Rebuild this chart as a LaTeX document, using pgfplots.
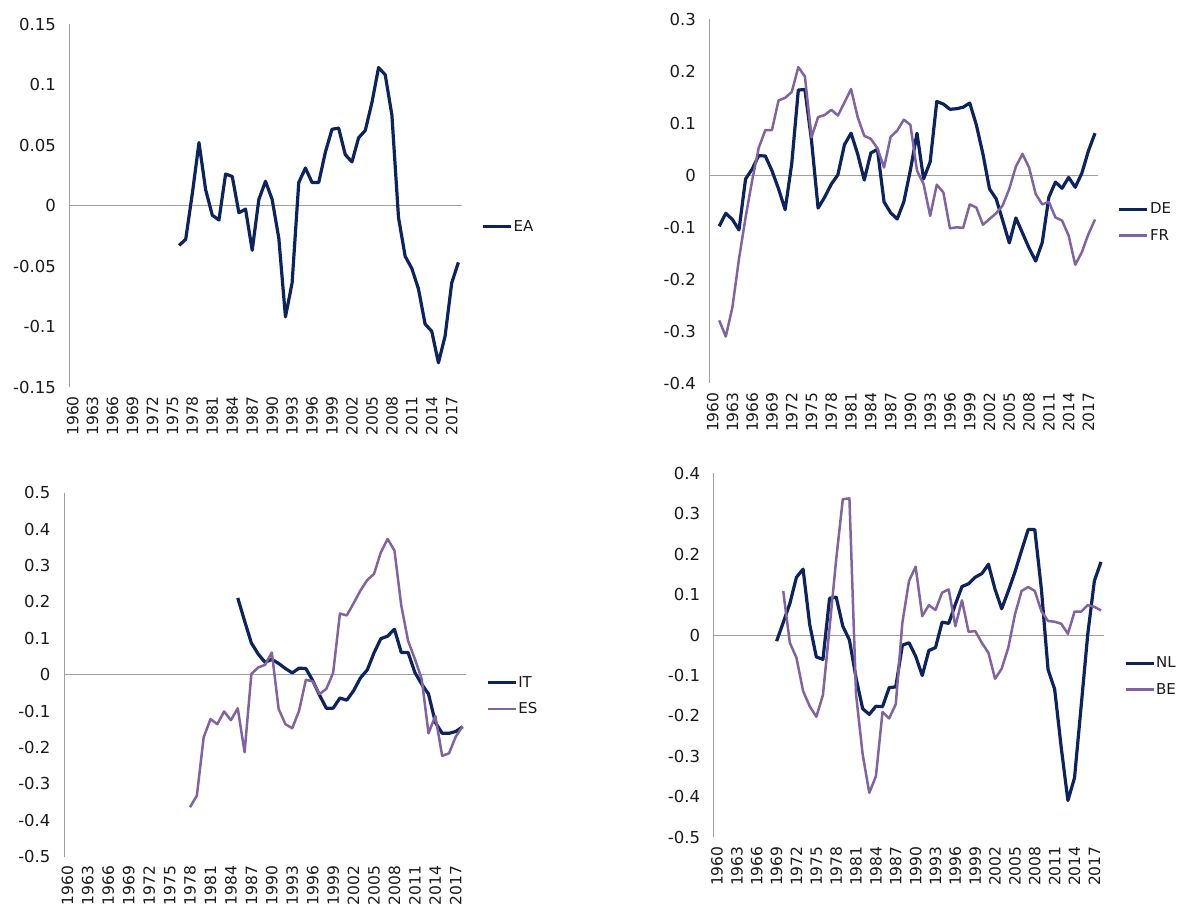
\documentclass[border=0pt]{standalone}
\usepackage{pgfplots}
\pgfplotsset{compat=1.18}
\usepackage{fontspec}
\setmainfont{DejaVu Sans}

\definecolor{navy}{RGB}{12,35,94}
\definecolor{lilac}{RGB}{128,100,162}
\definecolor{axgray}{RGB}{160,160,160}
\definecolor{txt}{RGB}{26,26,26}

\pgfplotsset{
  panel/.style={
    scale only axis,
    xmin=1959.5, xmax=2018.5,
    xtick={1960,1963,...,2017},
    axis x line=bottom, axis y line=left,
    separate axis lines,
    axis line style={-},
    x axis line style={draw=none},
    y axis line style={draw=axgray, line width=1pt},
    major tick length=0pt,
    font=\fontsize{15}{18}\selectfont,
    tick label style={text=txt, font=\fontsize{16.5}{19}\selectfont},
    x tick label style={font=\fontsize{15.5}{18}\selectfont, inner sep=2pt,
      yshift=-7pt, rotate=90, anchor=east,
      /pgf/number format/1000 sep=, /pgf/number format/assume math mode=true},
    y tick label style={xshift=-10pt},
    legend style={at={(1.042,0.442)}, anchor=west, draw=none, fill=none,
      font=\fontsize{15}{18}\selectfont, text=txt,
      nodes={inner xsep=1pt}, row sep=10pt},
    legend cell align=left,
    legend image code/.code={\draw[##1] (0pt,0pt) -- (28pt,0pt);},
    clip=false,
  },
  zero/.style={axgray, line width=1pt, forget plot},
  ser1/.style={navy, line width=3.2pt, line join=round},
  ser2/.style={lilac, line width=2.5pt, line join=round},
}

\begin{document}
\begin{tikzpicture}
\path[use as bounding box] (0pt,0pt) rectangle (1198pt,-907pt);

% --- EA ---
\begin{axis}[panel, at={(69.3pt,-387pt)}, anchor=south west,
  width=392.4pt, height=363pt, ymin=-0.15, ymax=0.15,
  ytick={-0.15,-0.1,-0.05,0,0.05,0.1,0.15},
  yticklabels={-0.15,-0.1,-0.05,0,0.05,0.1,0.15}]
\addplot[zero] coordinates {(1959.5,0) (2018.5,0)};
\addplot[ser1] coordinates {
(1976,-0.033) (1977,-0.028) (1978,0.010) (1979,0.052) (1980,0.013) (1981,-0.008)
(1982,-0.012) (1983,0.026) (1984,0.024) (1985,-0.006) (1986,-0.003) (1987,-0.037)
(1988,0.005) (1989,0.020) (1990,0.005) (1991,-0.027) (1992,-0.092) (1993,-0.064)
(1994,0.019) (1995,0.031) (1996,0.019) (1997,0.019) (1998,0.044) (1999,0.063)
(2000,0.064) (2001,0.042) (2002,0.036) (2003,0.056) (2004,0.062) (2005,0.085)
(2006,0.114) (2007,0.108) (2008,0.075) (2009,-0.010) (2010,-0.042) (2011,-0.052)
(2012,-0.069) (2013,-0.098) (2014,-0.104) (2015,-0.130) (2016,-0.108) (2017,-0.064)
(2018,-0.047)};
\addlegendentry{EA}
\end{axis}

% --- DE / FR ---
\begin{axis}[panel, at={(709.3pt,-383.3pt)}, anchor=south west,
  width=389pt, height=364pt, ymin=-0.4, ymax=0.3,
  ytick={-0.4,-0.3,-0.2,-0.1,0,0.1,0.2,0.3},
  yticklabels={-0.4,-0.3,-0.2,-0.1,0,0.1,0.2,0.3}]
\addplot[zero] coordinates {(1959.5,0) (2018.5,0)};
\addplot[ser1] coordinates {
(1961,-0.098) (1962,-0.073) (1963,-0.085) (1964,-0.105) (1965,-0.007) (1966,0.012)
(1967,0.038) (1968,0.037) (1969,0.009) (1970,-0.026) (1971,-0.066) (1972,0.022)
(1973,0.164) (1974,0.165) (1975,0.067) (1976,-0.063) (1977,-0.042) (1978,-0.017)
(1979,0.001) (1980,0.059) (1981,0.081) (1982,0.041) (1983,-0.009) (1984,0.043)
(1985,0.050) (1986,-0.051) (1987,-0.072) (1988,-0.084) (1989,-0.051) (1990,0.010)
(1991,0.081) (1992,-0.007) (1993,0.026) (1994,0.142) (1995,0.137) (1996,0.127)
(1997,0.128) (1998,0.131) (1999,0.139) (2000,0.097) (2001,0.041) (2002,-0.026)
(2003,-0.045) (2004,-0.087) (2005,-0.130) (2006,-0.082) (2007,-0.111) (2008,-0.140)
(2009,-0.165) (2010,-0.129) (2011,-0.042) (2012,-0.013) (2013,-0.025) (2014,-0.004)
(2015,-0.023) (2016,0.004) (2017,0.047) (2018,0.081)};
\addlegendentry{DE}
\addplot[ser2] coordinates {
(1961,-0.279) (1962,-0.310) (1963,-0.254) (1964,-0.161) (1965,-0.081) (1966,-0.010)
(1967,0.053) (1968,0.087) (1969,0.087) (1970,0.144) (1971,0.149) (1972,0.160)
(1973,0.208) (1974,0.190) (1975,0.073) (1976,0.112) (1977,0.116) (1978,0.126)
(1979,0.115) (1980,0.140) (1981,0.166) (1982,0.112) (1983,0.076) (1984,0.070)
(1985,0.052) (1986,0.015) (1987,0.074) (1988,0.086) (1989,0.107) (1990,0.097)
(1991,0.009) (1992,-0.017) (1993,-0.078) (1994,-0.018) (1995,-0.033) (1996,-0.102)
(1997,-0.100) (1998,-0.101) (1999,-0.056) (2000,-0.062) (2001,-0.095) (2002,-0.084)
(2003,-0.073) (2004,-0.058) (2005,-0.026) (2006,0.017) (2007,0.041) (2008,0.015)
(2009,-0.036) (2010,-0.056) (2011,-0.051) (2012,-0.081) (2013,-0.087) (2014,-0.116)
(2015,-0.172) (2016,-0.148) (2017,-0.113) (2018,-0.085)};
\addlegendentry{FR}
\end{axis}

% --- IT / ES ---
\begin{axis}[panel, at={(64pt,-856.7pt)}, anchor=south west,
  width=402pt, height=364pt, ymin=-0.5, ymax=0.5,
  ytick={-0.5,-0.4,-0.3,-0.2,-0.1,0,0.1,0.2,0.3,0.4,0.5},
  yticklabels={-0.5,-0.4,-0.3,-0.2,-0.1,0,0.1,0.2,0.3,0.4,0.5}]
\addplot[zero] coordinates {(1959.5,0) (2018.5,0)};
\addplot[ser1] coordinates {
(1985,0.211) (1986,0.148) (1987,0.087) (1988,0.057) (1989,0.034) (1990,0.042)
(1991,0.031) (1992,0.017) (1993,0.005) (1994,0.018) (1995,0.017) (1996,-0.016)
(1997,-0.056) (1998,-0.092) (1999,-0.092) (2000,-0.064) (2001,-0.070) (2002,-0.044)
(2003,-0.009) (2004,0.013) (2005,0.060) (2006,0.099) (2007,0.106) (2008,0.125)
(2009,0.061) (2010,0.061) (2011,0.006) (2012,-0.026) (2013,-0.053) (2014,-0.131)
(2015,-0.161) (2016,-0.161) (2017,-0.156) (2018,-0.143)};
\addlegendentry{IT}
\addplot[ser2] coordinates {
(1978,-0.364) (1979,-0.332) (1980,-0.172) (1981,-0.122) (1982,-0.136) (1983,-0.101)
(1984,-0.125) (1985,-0.092) (1986,-0.213) (1987,0.002) (1988,0.020) (1989,0.027)
(1990,0.061) (1991,-0.094) (1992,-0.136) (1993,-0.147) (1994,-0.099) (1995,-0.014)
(1996,-0.018) (1997,-0.053) (1998,-0.039) (1999,0.005) (2000,0.168) (2001,0.163)
(2002,0.196) (2003,0.231) (2004,0.260) (2005,0.277) (2006,0.336) (2007,0.373)
(2008,0.341) (2009,0.190) (2010,0.093) (2011,0.043) (2012,-0.012) (2013,-0.161)
(2014,-0.113) (2015,-0.223) (2016,-0.216) (2017,-0.170) (2018,-0.142)};
\addlegendentry{ES}
\end{axis}

% --- NL / BE ---
\begin{axis}[panel, at={(713.7pt,-837.3pt)}, anchor=south west,
  width=390.6pt, height=364pt, ymin=-0.5, ymax=0.4,
  ytick={-0.5,-0.4,-0.3,-0.2,-0.1,0,0.1,0.2,0.3,0.4},
  yticklabels={-0.5,-0.4,-0.3,-0.2,-0.1,0,0.1,0.2,0.3,0.4}]
\addplot[zero] coordinates {(1959.5,0) (2018.5,0)};
\addplot[ser1] coordinates {
(1969,-0.015) (1970,0.031) (1971,0.078) (1972,0.143) (1973,0.163) (1974,0.026)
(1975,-0.054) (1976,-0.060) (1977,0.091) (1978,0.094) (1979,0.022) (1980,-0.012)
(1981,-0.106) (1982,-0.182) (1983,-0.196) (1984,-0.176) (1985,-0.177) (1986,-0.130)
(1987,-0.128) (1988,-0.025) (1989,-0.019) (1990,-0.052) (1991,-0.100) (1992,-0.038)
(1993,-0.031) (1994,0.032) (1995,0.029) (1996,0.076) (1997,0.120) (1998,0.127)
(1999,0.143) (2000,0.152) (2001,0.175) (2002,0.113) (2003,0.065) (2004,0.109)
(2005,0.156) (2006,0.209) (2007,0.261) (2008,0.261) (2009,0.113) (2010,-0.085)
(2011,-0.134) (2012,-0.279) (2013,-0.409) (2014,-0.353) (2015,-0.176) (2016,0.002)
(2017,0.134) (2018,0.181)};
\addlegendentry{NL}
\addplot[ser2] coordinates {
(1970,0.109) (1971,-0.019) (1972,-0.056) (1973,-0.138) (1974,-0.176) (1975,-0.202)
(1976,-0.148) (1977,0.018) (1978,0.187) (1979,0.336) (1980,0.338) (1981,-0.147)
(1982,-0.295) (1983,-0.390) (1984,-0.349) (1985,-0.190) (1986,-0.206) (1987,-0.171)
(1988,0.031) (1989,0.134) (1990,0.169) (1991,0.047) (1992,0.074) (1993,0.062)
(1994,0.105) (1995,0.113) (1996,0.022) (1997,0.086) (1998,0.008) (1999,0.010)
(2000,-0.019) (2001,-0.044) (2002,-0.108) (2003,-0.083) (2004,-0.031) (2005,0.051)
(2006,0.109) (2007,0.119) (2008,0.109) (2009,0.059) (2010,0.035) (2011,0.033)
(2012,0.028) (2013,0.003) (2014,0.058) (2015,0.058) (2016,0.074) (2017,0.070)
(2018,0.061)};
\addlegendentry{BE}
\end{axis}
\end{tikzpicture}
\end{document}
